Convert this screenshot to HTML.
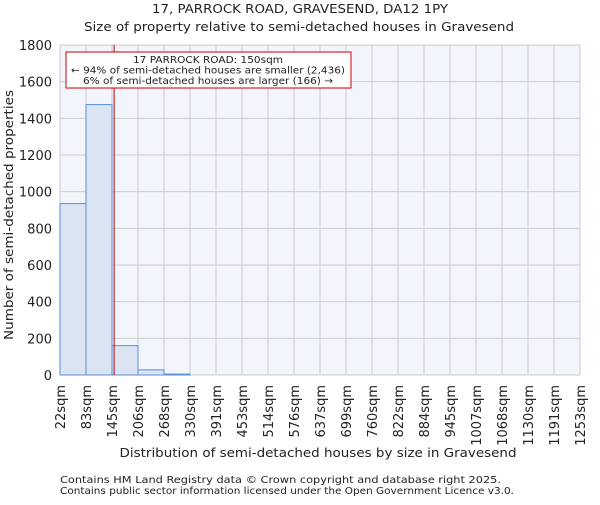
<!DOCTYPE html>
<html><head><meta charset="utf-8"><style>
body{margin:0;background:#fff;}
svg text{font-family:"DejaVu Sans","Liberation Sans",sans-serif;fill:#222;}
</style></head><body>
<svg id="chart" width="600" height="500">
<text x="300" y="13" font-size="12" text-anchor="middle" textLength="296" lengthAdjust="spacingAndGlyphs">17, PARROCK ROAD, GRAVESEND, DA12 1PY</text>
<text x="299" y="31" font-size="12" text-anchor="middle" textLength="430" lengthAdjust="spacingAndGlyphs">Size of property relative to semi-detached houses in Gravesend</text>
<rect x="60" y="45" width="520" height="330" fill="#f3f5fc"/>
<g id="grid"></g><g id="bars"></g><g id="axes"></g>
<text x="318" y="457" font-size="12" text-anchor="middle" textLength="397" lengthAdjust="spacingAndGlyphs">Distribution of semi-detached houses by size in Gravesend</text>
<text transform="translate(13,215) rotate(-90)" font-size="12" text-anchor="middle" textLength="250" lengthAdjust="spacingAndGlyphs">Number of semi-detached properties</text>
<text x="60" y="483" font-size="10" textLength="441" lengthAdjust="spacingAndGlyphs">Contains HM Land Registry data © Crown copyright and database right 2025.</text>
<text x="60" y="494" font-size="10" textLength="454" lengthAdjust="spacingAndGlyphs">Contains public sector information licensed under the Open Government Licence v3.0.</text>
</svg>
<script>
const binLabels=["22sqm","83sqm","145sqm","206sqm","268sqm","330sqm","391sqm","453sqm","514sqm","576sqm","637sqm","699sqm","760sqm","822sqm","884sqm","945sqm","1007sqm","1068sqm","1130sqm","1191sqm","1253sqm"];
const binEdges=[22,83.5,145,206.5,268,329.5,391,452.5,514,575.5,637,698.5,760,821.5,883,944.5,1006,1067.5,1129,1190.5,1252];
const counts=[935,1475,160,28,5,0,0,0,0,0,0,0,0,0,0,0,0,0,0,0];
const yTicks=[0,200,400,600,800,1000,1200,1400,1600,1800];
const propertySize=150;
const annotationLines=["17 PARROCK ROAD: 150sqm","← 94% of semi-detached houses are smaller (2,436)","6% of semi-detached houses are larger (166) →"];
const annotationWidths=[150,274,250];
const X0=60,X1=580,Y0=375,Y1=45;
const xs=v=>X0+(v-binEdges[0])/(binEdges[binEdges.length-1]-binEdges[0])*(X1-X0);
const ys=v=>Y0-v/1800*(Y0-Y1);
const NS="http://www.w3.org/2000/svg";
function mk(t,a,p){const e=document.createElementNS(NS,t);for(const k in a)e.setAttribute(k,a[k]);p.appendChild(e);return e;}
const grid=document.getElementById('grid'),bars=document.getElementById('bars'),axes=document.getElementById('axes');
yTicks.forEach(v=>{const l=mk('line',{x1:X0,x2:X1,y1:ys(v),y2:ys(v),stroke:'#cccccc','stroke-width':1},grid);


const t=mk('text',{x:X0-8,y:ys(v)+5,'font-size':13,'text-anchor':'end'},axes);t.textContent=v;

});
binEdges.forEach((v,i)=>{const x=xs(v);const l=mk('line',{x1:x,x2:x,y1:Y1,y2:Y0,stroke:'#cccccc','stroke-width':1},grid);


const t=mk('text',{transform:`translate(${x+5},${Y0+10}) rotate(-90)`,'font-size':13,'text-anchor':'end'},axes);t.textContent=binLabels[i];

});
counts.forEach((c,i)=>{const x=xs(binEdges[i]),w=xs(binEdges[i+1])-x;
const r=mk('rect',{x:x,y:ys(c),width:w,height:Y0-ys(c),fill:'#dae4f3',stroke:'#5a8fd5','stroke-width':1},bars);

});
const px=xs(propertySize);
const ml=mk('line',{x1:px,x2:px,y1:Y1,y2:Y0,stroke:'#d00000','stroke-width':1},axes);


const box=mk('rect',{x:66,y:52,width:285,height:36,fill:'#fff',stroke:'#cc0000','stroke-width':1},axes);


annotationLines.forEach((s,i)=>{const t=mk('text',{x:208,y:63+i*10.5,'font-size':10,'text-anchor':'middle',textLength:annotationWidths[i],lengthAdjust:'spacingAndGlyphs'},axes);t.textContent=s;

});
</script>
</body></html>
